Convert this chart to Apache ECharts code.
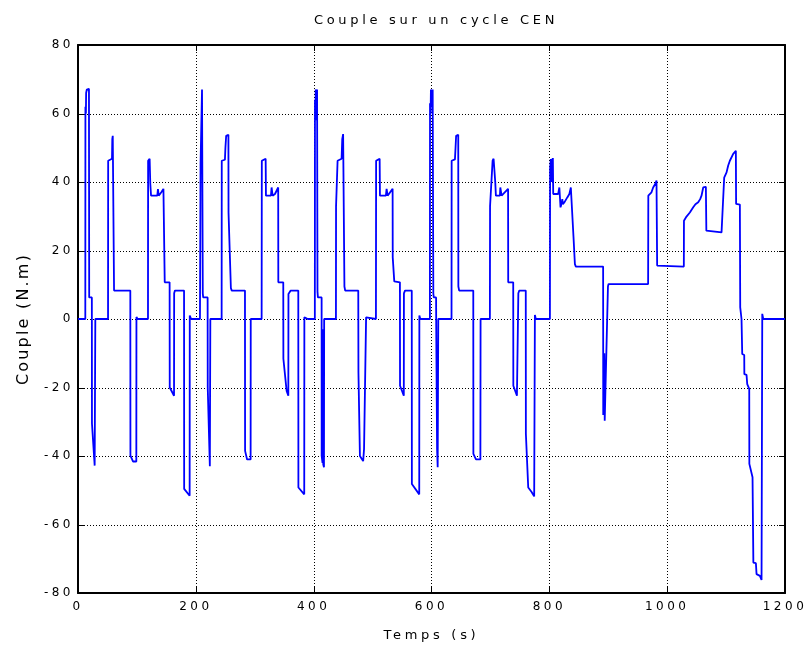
<!DOCTYPE html>
<html>
<head>
<meta charset="utf-8">
<script src="https://cdn.jsdelivr.net/npm/echarts@6/dist/echarts.min.js"></script>
<style>
  html, body { margin: 0; padding: 0; background: #fff; }
  #chart { width: 807px; height: 651px; }
</style>
</head>
<body>
<div id="chart"></div>
<script>
// Torque demanded over the CEN driving cycle:
// four urban ECE-15 segments followed by the extra-urban segment.
// Every array holds [time (s), torque (N.m)] breakpoints.

const ece1 = [
  [0, 0], [12.4, 0], [12.6, 62], [13.4, 60], [13.8, 66], [15, 67], [16.5, 66.5], [17.2, 67], [18.6, 67.2],
  [19, 6.3], [23.5, 6.3], [23.7, -30.5], [28.3, -42.8], [29.2, -43], [29.4, 0],
  [51, 0], [51.2, 46.2], [57.7, 46.8], [58.2, 52.5], [59, 53.5], [61, 53.8], [61.2, 8.3],
  [88.8, 8.3], [89, -39.9], [93.3, -41.6], [99, -41.6], [99.2, 0.6], [101, 0],
  [118.8, 0], [119, 46.2], [121.6, 46.8], [122.7, 39.5], [124, 36], [134.6, 36], [135.7, 37.9], [137, 36],
  [141.4, 37], [145, 38], [147, 38.2], [147.2, 10.7], [155.5, 10.7], [155.7, -20], [163, -22.4],
  [163.2, 7.5], [164.5, 8.3], [180, 8.3], [180.2, -49.6], [189.5, -51.6], [189.7, 1], [192, 0]
];

const ece2 = [
  [195, 0], [207, 0], [208, 45], [210.5, 67], [211.2, 67], [211.8, 7.5], [212.5, 6.3], [220, 6.3],
  [220.2, -20], [223.8, -43], [224.2, -43], [224.6, 0],
  [243.8, 0], [244, 46.2], [249.4, 46.5], [250.2, 50], [251.5, 53.5], [255.3, 53.8], [255.5, 31], [259.5, 9], [261, 8.3],
  [283.4, 8.3], [283.6, -38.5], [287, -41], [293, -41], [293.2, 0],
  [311.7, 0], [312, 46.2], [318.5, 46.8], [319, 36], [327.5, 36], [328.6, 38.4], [330.3, 36], [334.3, 36.5],
  [339.8, 38.4], [340, 10.7], [348.4, 10.7], [348.6, -11.6], [354.1, -21], [357, -22.4],
  [357.2, 7.3], [361, 8.3], [373.9, 8.3], [374.1, -49.2], [384, -51.2], [384.2, 0.5], [386, 0]
];

const ece3 = [
  [390, 0], [402, 0], [402.2, 64], [403, 58], [403.5, 67], [404.5, 67], [405, 66], [405.8, 67], [406.5, 8], [407.2, 6.3],
  [413.5, 6.3], [413.6, -40], [415, -42], [415.3, -3], [416.3, -42.5], [417.5, -43.3], [417.8, 0],
  [437.8, 0], [438, 33], [440.6, 46.2], [447.4, 46.8], [448.5, 52.5], [450, 54], [452, 54], [452.2, 9.5], [453.5, 8.3],
  [475.7, 8.3], [476, -15.6], [478.5, -40], [484, -41.5], [485.5, -38], [489, 0.5], [490, 0],
  [505.7, 0], [506, 46.2], [512, 46.8], [512.5, 36], [522.6, 36], [523.8, 38], [525.5, 36], [528.3, 36.5],
  [534, 38], [534.2, 18], [536.8, 11], [538, 10.7], [546.4, 10.7], [546.6, -19.5], [553, -22.4],
  [553.2, 7.5], [555, 8.3], [566.5, 8.3], [566.7, -48.2], [579.2, -51.2], [579.4, 1], [581, 0]
];

const ece4 = [
  [585, 0], [597.3, 0], [597.5, 63], [598.5, 60], [599, 67], [601, 67], [601.5, 62], [602, 67], [602.8, 67],
  [603.1, 7.5], [603.8, 6.3], [607.8, 6.3], [608, -2], [609.5, -38], [610.5, -43.3], [611.3, -43.3], [611.5, 0],
  [634, 0], [634.2, 46.2], [639.8, 46.6], [640.8, 50], [641.8, 53.5], [645.4, 53.8], [645.6, 9.5], [647, 8.3],
  [670.9, 8.3], [671.1, -39.4], [675.5, -41], [683, -41], [683.3, 0],
  [699.1, 0], [699.4, 33], [703.7, 46.2], [705.4, 46.8], [708.2, 40], [709.3, 36], [716.1, 36], [716.8, 38.4],
  [719, 36], [722, 36.5], [730, 38], [730.2, 10.7], [738.7, 10.7], [738.9, -19.5], [745, -22.4], [747.2, -22.4],
  [747.4, 7.5], [749, 8.3], [760, 8.3], [760.2, -33.6], [764.2, -49.2], [769.9, -50.5], [774.3, -51.8],
  [775.5, 1.2], [777, 0]
];

const eudc = [
  [801, 0], [801.3, 44], [802.5, 46.7], [803, 40], [803.5, 46], [804.5, 46.7], [805, 40], [806, 47], [806.6, 36.5],
  [815, 36.5], [817, 38.4], [819, 32.6], [820.5, 33.5], [822, 35], [823, 33.5], [826, 34.2], [830.5, 35.5],
  [834, 36.5], [836.5, 38.4], [839.4, 38.8], [841, 24], [843.4, 16], [845, 15.3], [891.3, 15.3],
  [891.5, -28], [893, -28.5], [893.3, -10], [894, -29.7], [895.5, -29.7], [899.5, 9.5], [900.5, 10.2],
  [967.7, 10.2], [968, 36], [973.4, 37], [976.2, 38.4], [980, 39.5], [981.9, 40.4], [983, 15.6], [984, 15.3],
  [1028.3, 15.3], [1028.5, 28.7], [1032.8, 29.9], [1038.5, 31.1], [1041.3, 31.5], [1044.2, 32.6], [1048, 33.5],
  [1052.7, 34.1], [1056, 35], [1058.3, 36], [1061.2, 38.4], [1065.7, 38.6], [1066.5, 25.8], [1067.5, 25.3],
  [1092.3, 25.3], [1096.8, 41.3], [1100.8, 42.8], [1103.6, 44.8], [1106.4, 46.2], [1109, 46.7], [1112.1, 48.2],
  [1116.6, 49.1], [1117, 33.6], [1123.4, 33.4], [1124, 3.4], [1126.2, 0], [1127.4, -10.2], [1130.8, -10.5],
  [1131, -16.1], [1134.7, -16.3], [1135.9, -19], [1139.3, -20.4], [1139.5, -42.3], [1144.9, -46.2],
  [1146.1, -46.5], [1146.3, -71.1], [1150.6, -71.3], [1151.7, -74.5], [1157.4, -75], [1160.2, -76.2],
  [1161.4, 1.5], [1163.1, 0], [1200, 0]
];

// Axis ranges, steps and the interior grid positions
const timeRange = [0, 1200];
const timeStep = 200;
const torqueRange = [-80, 80];
const torqueStep = 20;
const timeGrid = [200, 400, 600, 800, 1000];
const torqueGrid = [-60, -40, -20, 0, 20, 40, 60];

const titleText = 'Couple sur un cycle CEN';
const xName = 'Temps (s)';
const yName = 'Couple (N.m)';

// Wide, spaced-out lettering as in plotting printouts
const letterGap = { 10: '3px', 12: '3.5px', 13: '3.7px', 16: '2.2px' };
const baseFillText = CanvasRenderingContext2D.prototype.fillText;
CanvasRenderingContext2D.prototype.fillText = function (s, x, y, w) {
  const m = /(\d+(?:\.\d+)?)px/.exec(this.font);
  this.letterSpacing = (m && letterGap[Math.round(+m[1])]) || '0px';
  const r = w === undefined ? baseFillText.call(this, s, x, y) : baseFillText.call(this, s, x, y, w);
  this.letterSpacing = '0px';
  return r;
};

const font = '"DejaVu Sans", sans-serif';
const black = '#000';
const plain = (v) => String(v);
const TICK = 6;

const frameAxis = (extra) => Object.assign({
  type: 'value',
  axisLine: { show: true, onZero: false, lineStyle: { color: black, width: 2 } },
  axisTick: { show: false },
  axisLabel: { show: false },
  splitLine: { show: false }
}, extra);

// Grid entries: [0, time] for a vertical line, [1, torque] for a horizontal one
const gridEntries = timeGrid.map((v) => [0, v]).concat(torqueGrid.map((v) => [1, v]));

const crisp = (p) => Math.round(p) + 0.5;
const dotted = { stroke: black, lineWidth: 1, lineDash: [1, 2], fill: null };
const solid = { stroke: black, lineWidth: 1, fill: null };

function renderGridLine(params, api) {
  const kind = api.value(0);
  const v = api.value(1);
  if (kind === 0) {
    const lo = api.coord([v, torqueRange[0]]);
    const hi = api.coord([v, torqueRange[1]]);
    const x = crisp(lo[0]);
    return {
      type: 'group',
      children: [
        { type: 'line', shape: { x1: x, y1: lo[1], x2: x, y2: hi[1] }, style: dotted },
        { type: 'line', shape: { x1: x, y1: lo[1], x2: x, y2: lo[1] - TICK }, style: solid },
        { type: 'line', shape: { x1: x, y1: hi[1], x2: x, y2: hi[1] + TICK }, style: solid }
      ]
    };
  }
  const lf = api.coord([timeRange[0], v]);
  const rt = api.coord([timeRange[1], v]);
  const y = crisp(lf[1]);
  return {
    type: 'group',
    children: [
      { type: 'line', shape: { x1: lf[0], y1: y, x2: rt[0], y2: y }, style: dotted },
      { type: 'line', shape: { x1: lf[0], y1: y, x2: lf[0] + TICK, y2: y }, style: solid },
      { type: 'line', shape: { x1: rt[0], y1: y, x2: rt[0] - TICK, y2: y }, style: solid }
    ]
  };
}

const chart = echarts.init(document.getElementById('chart'), null, { renderer: 'canvas' });

chart.setOption({
  backgroundColor: '#fff',
  animation: false,
  title: {
    text: titleText,
    left: 431,
    top: 9,
    textAlign: 'center',
    textStyle: { color: black, fontSize: 13, fontWeight: 'normal', fontFamily: font }
  },
  grid: { left: 78, top: 45, right: 22, bottom: 58 },
  xAxis: [
    frameAxis({
      position: 'bottom',
      min: timeRange[0], max: timeRange[1], interval: timeStep,
      axisLabel: { show: true, color: black, fontSize: 12, fontFamily: font, formatter: plain },
      name: xName,
      nameLocation: 'middle',
      nameGap: 36,
      nameTextStyle: { color: black, fontSize: 13, fontFamily: font }
    }),
    frameAxis({ position: 'top', min: timeRange[0], max: timeRange[1], interval: timeStep })
  ],
  yAxis: [
    frameAxis({
      position: 'left',
      min: torqueRange[0], max: torqueRange[1], interval: torqueStep,
      axisLabel: { show: true, color: black, fontSize: 12, fontFamily: font, margin: 4, formatter: plain },
      name: yName,
      nameLocation: 'middle',
      nameGap: 46,
      nameTextStyle: { color: black, fontSize: 16, fontFamily: font }
    }),
    frameAxis({ position: 'right', min: torqueRange[0], max: torqueRange[1], interval: torqueStep })
  ],
  series: [{
    // dotted grid and inward ticks at every labelled step
    type: 'custom',
    coordinateSystem: 'cartesian2d',
    xAxisIndex: 0,
    yAxisIndex: 0,
    silent: true,
    z: 1,
    clip: false,
    encode: { x: -1, y: -1 },
    data: gridEntries,
    renderItem: renderGridLine
  }, {
    type: 'line',
    xAxisIndex: 0,
    yAxisIndex: 0,
    z: 3,
    data: [].concat(ece1, ece2, ece3, ece4, [[777, 0]], eudc),
    showSymbol: false,
    symbol: 'none',
    lineStyle: { color: '#0000ff', width: 1.8 }
  }]
});
</script>
</body>
</html>
